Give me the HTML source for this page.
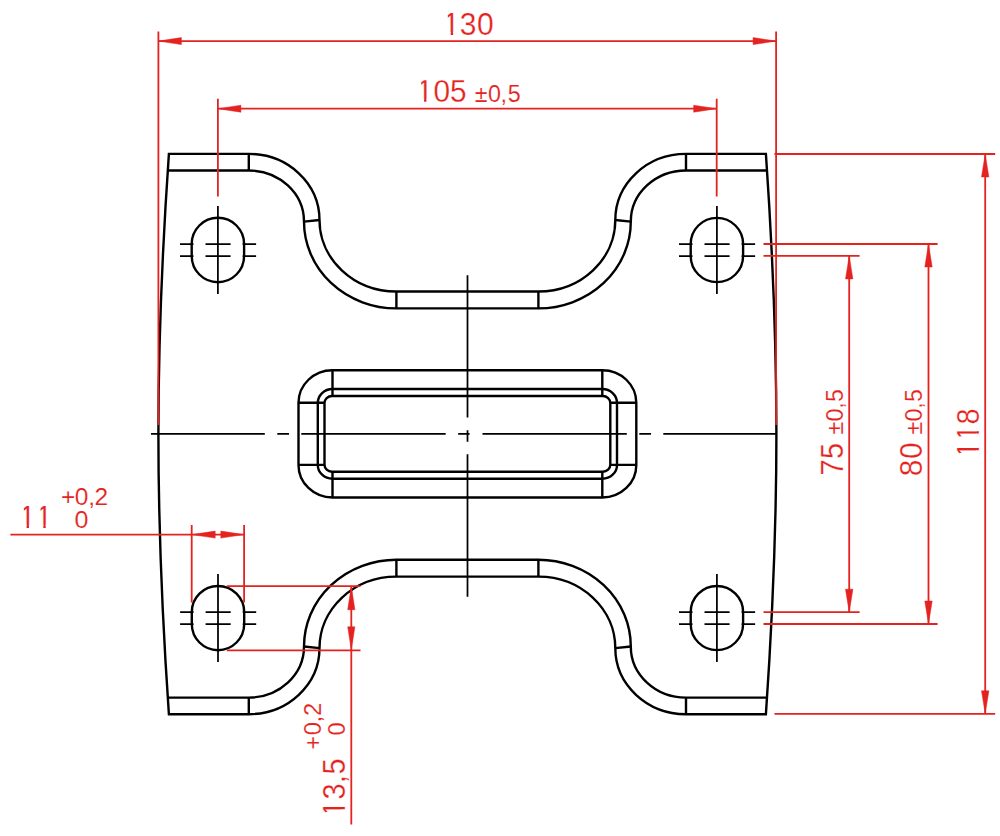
<!DOCTYPE html>
<html>
<head>
<meta charset="utf-8">
<style>
html,body{margin:0;padding:0;background:#fff;}
body{width:1000px;height:836px;overflow:hidden;}
svg{display:block;}
text{font-family:"Liberation Sans", sans-serif;fill:#e42320;stroke:#fff;stroke-width:0.25px;}
text.s{stroke-width:0.15px;}
</style>
</head>
<body>
<svg width="1000" height="836" viewBox="0 0 1000 836">
<rect width="1000" height="836" fill="#fff"/>

<!-- ===== PLATE OUTLINE (black) ===== -->
<g fill="none" stroke="#000" stroke-width="2.4" stroke-linejoin="miter">
  <!-- outer edge -->
  <path d="M168.9,153.9 L248.8,153.9 A70.7,66.1 0 0 1 319.5,220 A76.9,71.5 0 0 0 396.4,291.5 L538.4,291.5 A76.9,71.5 0 0 0 615.3,220 A70.7,66.1 0 0 1 686,153.9 L765.9,153.9
           Q776.4,305 776.4,434.05 Q776.4,563.1 765.9,714.2
           L686,714.2 A70.7,66.1 0 0 1 615.3,648.1 A76.9,71.5 0 0 0 538.4,576.6 L396.4,576.6 A76.9,71.5 0 0 0 319.5,648.1 A70.7,66.1 0 0 1 248.8,714.2 L168.9,714.2
           Q158.4,563.1 158.4,434.05 Q158.4,305 168.9,153.9 Z"/>
  <!-- inner bend lines -->
  <path d="M167.9,170.5 L248.8,170.5 A55.2,51.1 0 0 1 304,221.6 A92.4,86.8 0 0 0 396.4,308.4 L538.4,308.4 A92.4,86.8 0 0 0 630.8,221.6 A55.2,51.1 0 0 1 686,170.5 L766.9,170.5"/>
  <path d="M167.9,697.6 L248.8,697.6 A55.2,51.1 0 0 0 304,646.5 A92.4,86.8 0 0 1 396.4,559.7 L538.4,559.7 A92.4,86.8 0 0 1 630.8,646.5 A55.2,51.1 0 0 0 686,697.6 L766.9,697.6"/>
  <!-- bend ticks -->
  <path d="M248.8,153.9 V170.5 M686,153.9 V170.5 M248.8,714.2 V697.6 M686,714.2 V697.6
           M304,221.6 L319.5,220 M630.8,221.6 L615.3,220 M304,646.5 L319.5,648.1 M630.8,646.5 L615.3,648.1
           M396.4,291.5 V308.4 M538.4,291.5 V308.4 M396.4,576.6 V559.7 M538.4,576.6 V559.7"/>

  <!-- central slot -->
  <path d="M332.5,370.2 H602.3 A34,32.6 0 0 1 636.3,402.8 V464.9 A34,32.6 0 0 1 602.3,497.5 H332.5 A34,32.6 0 0 1 298.5,464.9 V402.8 A34,32.6 0 0 1 332.5,370.2 Z"/>
  <path d="M332.5,389 H602.3 A14.7,13.8 0 0 1 617,402.8 V464.9 A14.7,13.8 0 0 1 602.3,478.7 H332.5 A14.7,13.8 0 0 1 317.8,464.9 V402.8 A14.7,13.8 0 0 1 332.5,389 Z"/>
  <path d="M332,396 H602.8 A7.5,7 0 0 1 610.3,403 V464.7 A7.5,7 0 0 1 602.8,471.7 H332 A7.5,7 0 0 1 324.5,464.7 V403 A7.5,7 0 0 1 332,396 Z"/>
  <path d="M332.5,370.2 V396 M602.3,370.2 V396 M332.5,497.5 V471.7 M602.3,497.5 V471.7
           M298.5,402.8 H324.5 M298.5,464.9 H324.5 M610.3,402.8 H636.3 M610.3,464.9 H636.3"/>

  <!-- slotted holes -->
  <path d="M191.7,244 A26.2,26.2 0 0 1 244.1,244 V256 A26.2,26.2 0 0 1 191.7,256 Z"/>
  <path d="M690.7,244 A26.2,26.2 0 0 1 743.1,244 V256 A26.2,26.2 0 0 1 690.7,256 Z"/>
  <path d="M191.8,612.2 A26.2,26.2 0 0 1 244.2,612.2 V624 A26.2,26.2 0 0 1 191.8,624 Z"/>
  <path d="M690.7,612.2 A26.2,26.2 0 0 1 743.1,612.2 V624 A26.2,26.2 0 0 1 690.7,624 Z"/>
</g>

<!-- centre lines (thin black) -->
<g fill="none" stroke="#000" stroke-width="1.75">
  <path d="M151,433.9 H264.8 M277.3,433.9 H289 M301.3,433.9 H445.7 M458.2,433.9 H469.6 M482.5,433.9 H626.8 M639.3,433.9 H651 M663.3,433.9 H776.5"/>
  <path d="M467.5,275.2 V417.5 M467.5,430.3 V441.7 M467.5,454.3 V596.7"/>
  <!-- hole centre marks -->
  <path d="M217.9,206 V294 M180,244 H193.5 M205.5,244 H230.6 M242.6,244 H256.1 M180,256 H193.5 M205.5,256 H230.6 M242.6,256 H256.1"/>
  <path d="M716.9,206 V294 M679,244 H692.5 M704.5,244 H729.6 M741.6,244 H755.1 M679,256 H692.5 M704.5,256 H729.6 M741.6,256 H755.1"/>
  <path d="M218,574.1 V662.1 M180.1,612.2 H193.6 M205.6,612.2 H230.7 M242.7,612.2 H256.2 M180.1,624 H193.6 M205.6,624 H230.7 M242.7,624 H256.2"/>
  <path d="M716.9,574.1 V662.1 M679,612.2 H692.5 M704.5,612.2 H729.6 M741.6,612.2 H755.1 M679,624 H692.5 M704.5,624 H729.6 M741.6,624 H755.1"/>
</g>

<!-- ===== DIMENSIONS (red) ===== -->
<g fill="none" stroke="#e42320" stroke-width="1.8">
  <!-- 130 -->
  <path d="M158.4,31.4 V425 M776.1,31.4 V425 M158.4,41.1 H776.1"/>
  <!-- 105 -->
  <path d="M217.9,98.8 V196.6 M716.7,98.8 V196.6 M217.9,108.7 H716.7"/>
  <!-- 118 -->
  <path d="M774.5,154 H995.2 M774.5,713.8 H995.2 M985.2,154 V713.8"/>
  <!-- 80 -->
  <path d="M763.5,244 H937.6 M763.5,624 H937.6 M928.5,244 V624"/>
  <!-- 75 -->
  <path d="M763.5,255.9 H859.6 M763.5,612.2 H859.6 M849.2,255.9 V612.2"/>
  <!-- 11 -->
  <path d="M191.7,525 V602.5 M244.1,525 V602.5 M10.4,534.6 H244.1"/>
  <!-- 13,5 -->
  <path d="M226.8,586.2 H360.5 M226.8,650.3 H360.5 M351.3,586.2 V824.6"/>
</g>
<g fill="#e42320" stroke="#e42320" stroke-width="0.5" stroke-linejoin="round">
  <!-- arrowheads -->
  <path d="M158.4,41.1 L181.4,37.6 L181.4,44.6 Z M776.1,41.1 L753.1,37.6 L753.1,44.6 Z"/>
  <path d="M217.9,108.7 L240.9,105.2 L240.9,112.2 Z M716.7,108.7 L693.7,105.2 L693.7,112.2 Z"/>
  <path d="M985.2,154 L981.5,177 L988.9,177 Z M985.2,713.8 L981.5,690.8 L988.9,690.8 Z"/>
  <path d="M928.5,244 L924.8,267 L932.2,267 Z M928.5,624 L924.8,601 L932.2,601 Z"/>
  <path d="M849.2,255.9 L845.5,278.9 L852.9,278.9 Z M849.2,612.2 L845.5,589.2 L852.9,589.2 Z"/>
  <path d="M191.7,534.6 L215.2,531.1 L215.2,538.1 Z M244.1,534.6 L220.8,531.1 L220.8,538.1 Z"/>
  <path d="M351.3,586.2 L347.7,609.7 L354.9,609.7 Z M351.3,650.3 L347.7,626.8 L354.9,626.8 Z"/>
</g>

<!-- dimension texts -->
<g>
  <text transform="translate(443.02,34.8) scale(0.9626,1)" x="0.00 17.42 35.40" y="0" font-size="31.2">130</text>
  <text transform="translate(416.43,101.8) scale(0.9559,1)" x="0.00 17.97 35.05" y="0" font-size="31.2">105</text>
  <text class="s" transform="translate(474.85,101.75) scale(0.9705,1)" x="0.00 13.44 26.31 33.81" y="0" font-size="24.0">±0,5</text>
  <text transform="translate(978.8,457.68) rotate(-90) scale(0.9300,1)" x="0.00 17.96 35.66" y="0" font-size="31.2">118</text>
  <text transform="translate(922.1,476.36) rotate(-90) scale(0.9577,1)" x="0.00 18.01" y="0" font-size="31.2">80</text>
  <text class="s" transform="translate(922.0,434.46) rotate(-90) scale(0.9647,1)" x="0.00 13.39 26.74 33.58" y="0" font-size="24.0">±0,5</text>
  <text transform="translate(843.1,475.56) rotate(-90) scale(0.9278,1)" x="0.00 17.78" y="0" font-size="31.2">75</text>
  <text class="s" transform="translate(843.0,434.46) rotate(-90) scale(0.9648,1)" x="0.00 13.55 26.58 33.73" y="0" font-size="24.0">±0,5</text>
  <text transform="translate(19.22,527.8) scale(0.9300,1)" x="0.00 17.96" y="0" font-size="31.2">11</text>
  <text class="s" transform="translate(60.90,504.6) scale(1.0215,1)" x="0.00 13.69 26.72 32.93" y="0" font-size="24.0">+0,2</text>
  <text class="s" transform="translate(74.52,527.5) scale(1.0460,1)" x="0.00" y="0" font-size="24.0">0</text>
  <text transform="translate(344.8,816.67) rotate(-90) scale(0.9295,1)" x="0.00 18.44 36.09 45.33" y="0" font-size="31.2">13,5</text>
  <text class="s" transform="translate(321.2,749.81) rotate(-90) scale(0.9866,1)" x="0.00 14.72 27.74 34.39" y="0" font-size="24.0">+0,2</text>
  <text class="s" transform="translate(344.6,735.42) rotate(-90) scale(0.9850,1)" x="0.00" y="0" font-size="24.0">0</text>
</g>
<!-- hide the foot serif of the digit one -->
<g fill="#fff">
    <rect transform="translate(443.02,34.8) scale(0.9626,1)" x="1.18" y="-2.93" width="6.77" height="3.83"/>
    <rect transform="translate(443.02,34.8) scale(0.9626,1)" x="10.50" y="-2.93" width="6.53" height="3.83"/>
    <rect transform="translate(443.02,34.8) scale(0.9626,1)" x="1.13" y="-19.54" width="3.89" height="5.07"/>
    <rect transform="translate(416.43,101.8) scale(0.9559,1)" x="1.18" y="-2.93" width="6.77" height="3.83"/>
    <rect transform="translate(416.43,101.8) scale(0.9559,1)" x="10.50" y="-2.93" width="6.53" height="3.83"/>
    <rect transform="translate(416.43,101.8) scale(0.9559,1)" x="1.13" y="-19.54" width="3.89" height="5.07"/>
    <rect transform="translate(978.8,457.68) rotate(-90) scale(0.9300,1)" x="1.18" y="-2.93" width="6.77" height="3.83"/>
    <rect transform="translate(978.8,457.68) rotate(-90) scale(0.9300,1)" x="10.50" y="-2.93" width="6.53" height="3.83"/>
    <rect transform="translate(978.8,457.68) rotate(-90) scale(0.9300,1)" x="1.13" y="-19.54" width="3.89" height="5.07"/>
    <rect transform="translate(978.8,457.68) rotate(-90) scale(0.9300,1)" x="19.13" y="-2.93" width="6.77" height="3.83"/>
    <rect transform="translate(978.8,457.68) rotate(-90) scale(0.9300,1)" x="28.46" y="-2.93" width="6.53" height="3.83"/>
    <rect transform="translate(978.8,457.68) rotate(-90) scale(0.9300,1)" x="19.09" y="-19.54" width="3.89" height="5.07"/>
    <rect transform="translate(19.22,527.8) scale(0.9300,1)" x="1.18" y="-2.93" width="6.77" height="3.83"/>
    <rect transform="translate(19.22,527.8) scale(0.9300,1)" x="10.50" y="-2.93" width="6.53" height="3.83"/>
    <rect transform="translate(19.22,527.8) scale(0.9300,1)" x="1.13" y="-19.54" width="3.89" height="5.07"/>
    <rect transform="translate(19.22,527.8) scale(0.9300,1)" x="19.13" y="-2.93" width="6.77" height="3.83"/>
    <rect transform="translate(19.22,527.8) scale(0.9300,1)" x="28.46" y="-2.93" width="6.53" height="3.83"/>
    <rect transform="translate(19.22,527.8) scale(0.9300,1)" x="19.09" y="-19.54" width="3.89" height="5.07"/>
    <rect transform="translate(344.8,816.67) rotate(-90) scale(0.9295,1)" x="1.18" y="-2.93" width="6.77" height="3.83"/>
    <rect transform="translate(344.8,816.67) rotate(-90) scale(0.9295,1)" x="10.50" y="-2.93" width="6.53" height="3.83"/>
    <rect transform="translate(344.8,816.67) rotate(-90) scale(0.9295,1)" x="1.13" y="-19.54" width="3.89" height="5.07"/>
</g>
</svg>
</body>
</html>
